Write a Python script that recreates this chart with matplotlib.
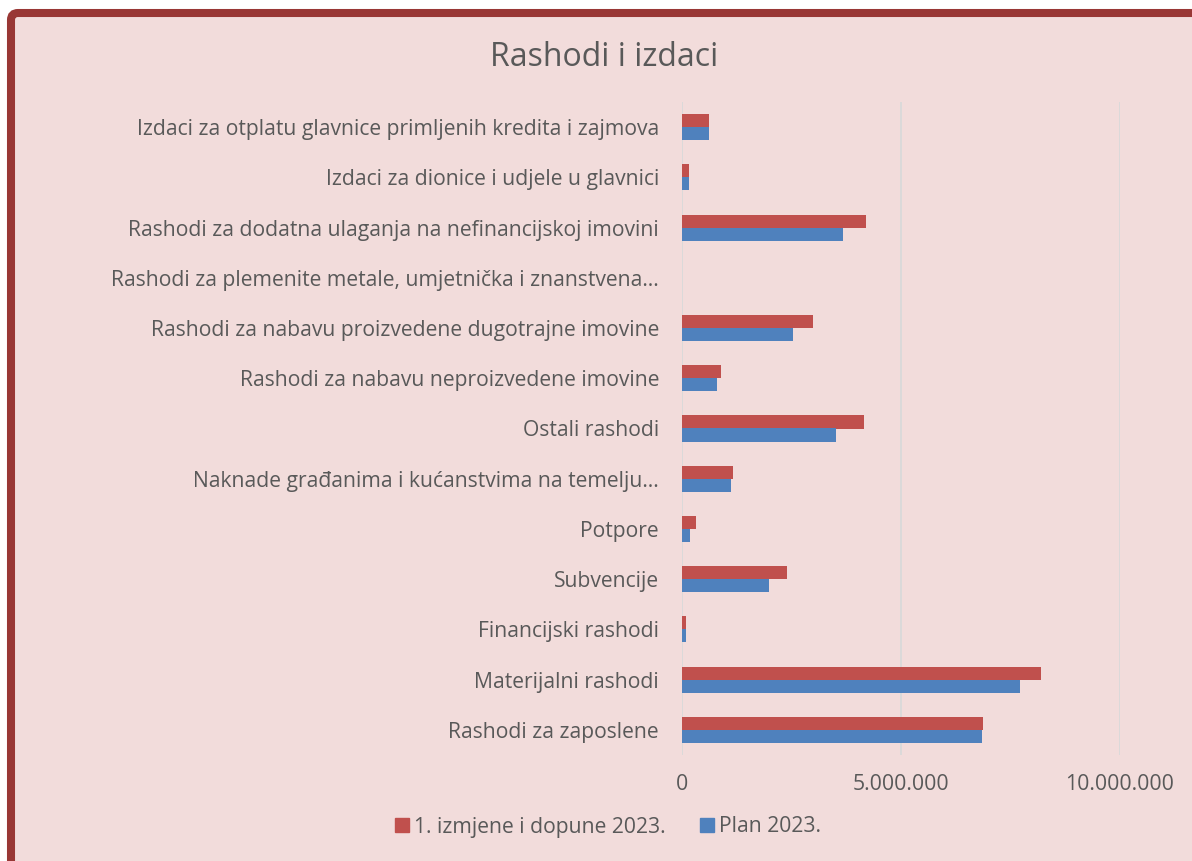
import matplotlib
matplotlib.use("Agg")
import matplotlib.pyplot as plt
import numpy as np
from matplotlib.patches import FancyBboxPatch, Patch
from matplotlib.ticker import FuncFormatter

categories = [
    "Rashodi za zaposlene",
    "Materijalni rashodi",
    "Financijski rashodi",
    "Subvencije",
    "Potpore",
    "Naknade građanima i kućanstvima na temelju…",
    "Ostali rashodi",
    "Rashodi za nabavu neproizvedene imovine",
    "Rashodi za nabavu proizvedene dugotrajne imovine",
    "Rashodi za plemenite metale, umjetnička i znanstvena…",
    "Rashodi za dodatna ulaganja na nefinancijskoj imovini",
    "Izdaci za dionice i udjele u glavnici",
    "Izdaci za otplatu glavnice primljenih kredita i zajmova",
]
izmjene_2023 = [6880000, 8200000, 100000, 2390000, 330000, 1160000, 4160000,
                890000, 2980000, 0, 4190000, 160000, 620000]
plan_2023 = [6840000, 7720000, 100000, 1980000, 180000, 1130000, 3510000,
             810000, 2530000, 0, 3680000, 160000, 620000]
series_names = ["1. izmjene i dopune 2023.", "Plan 2023."]
xticks = [0, 5000000, 10000000]

BG = "#F2DCDB"
RED = "#C0504D"
BLUE = "#4F81BD"
TXT = "#595959"
GRID = "#D9D9D9"
FONT = ["Open Sans", "DejaVu Sans"]

W, H = 1192, 861
fig = plt.figure(figsize=(W / 100, H / 100), dpi=100)
fig.patch.set_facecolor("white")

# chart area background + border (cropped at right and bottom)
border = FancyBboxPatch((11, -100), 1400, H - 13 + 100,
                        boxstyle="round,pad=0,rounding_size=7",
                        transform=None, facecolor=BG, edgecolor="#993735",
                        linewidth=5.8, zorder=-5)
fig.patches.append(border)

ax = fig.add_axes([682 / W, 1 - 755 / H, (1120 - 682) / W, (755 - 102) / H])
ax.set_zorder(2)
ax.set_facecolor("none")

y = np.arange(len(categories))
h = 0.26
ax.barh(y + h / 2, izmjene_2023, height=h, color=RED, label=series_names[0], zorder=3)
ax.barh(y - h / 2, plan_2023, height=h, color=BLUE, label=series_names[1], zorder=3)

ax.set_ylim(-0.5, len(categories) - 0.5)
ax.set_xlim(0, 10000000)
ax.set_yticks(y)
ax.set_yticklabels(categories, fontsize=15.2, color=TXT, family=FONT)
ax.set_xticks(xticks)
ax.xaxis.set_major_formatter(FuncFormatter(lambda v, p: f"{int(v):,}".replace(",", ".")))
for lbl in ax.get_xticklabels():
    lbl.set_fontsize(15.3)
    lbl.set_color(TXT)
    lbl.set_family(FONT)
ax.tick_params(axis="both", length=0)
ax.tick_params(axis="y", pad=16.5)
ax.tick_params(axis="x", pad=14)
ax.grid(axis="x", color=GRID, linewidth=1.3, zorder=0)
ax.set_axisbelow(True)
for s in ax.spines.values():
    s.set_visible(False)

fig.text(604 / W, 1 - 58 / H, "Rashodi i izdaci", ha="center", va="center",
         fontsize=23, color=TXT, family=FONT, zorder=3)

handles = [Patch(color=RED), Patch(color=BLUE)]
leg = fig.legend(handles, series_names, loc="center", bbox_to_anchor=(608 / W, 1 - 827 / H),
                 ncol=2, frameon=False, handlelength=0.65, handleheight=0.65,
                 handletextpad=0.25, columnspacing=1.63,
                 prop={"family": FONT, "size": 15.2})
leg.set_zorder(3)
for t in leg.get_texts():
    t.set_color(TXT)

fig.savefig("out.png", dpi=100, facecolor=fig.get_facecolor())
